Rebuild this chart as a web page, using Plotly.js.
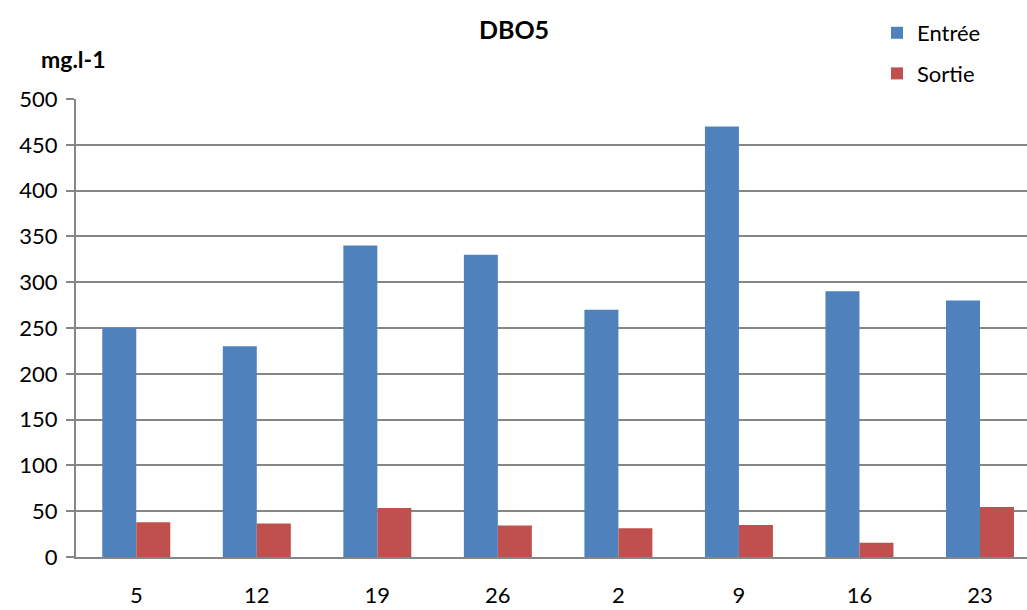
<!DOCTYPE html>
<html><head><meta charset="utf-8">
<script src="https://cdn.plot.ly/plotly-3.0.1.min.js"></script>
<style>html,body{margin:0;padding:0;background:#fff;}#chart{width:1027px;height:610px;}</style>
</head><body><div id="chart"></div>
<script>
const categories = ["5", "12", "19", "26", "2", "9", "16", "23"];
const entree = [250, 230, 340, 330, 270, 470, 290, 280];
const sortie = [38, 36.5, 53.5, 34.5, 31.5, 35, 15.5, 54.5];
const yTicks = [0, 50, 100, 150, 200, 250, 300, 350, 400, 450, 500];

const FONT = "Lato, 'Open Sans', sans-serif";
const idx = categories.map((c, i) => i);

const traces = [
  {type: "bar", name: "Entrée", x: idx, y: entree, marker: {color: "#4F81BD"}, legendgroup: "a"},
  {type: "bar", name: "Sortie", x: idx, y: sortie, marker: {color: "#C0504D"}, legendgroup: "b"}
];

const layout = {
  width: 1027, height: 610,
  margin: {l: 76, r: 0, t: 99, b: 53, autoexpand: false},
  paper_bgcolor: "#fff", plot_bgcolor: "#fff",
  font: {family: FONT, size: 22, color: "#000"},
  barmode: "group", bargap: 0.436, bargroupgap: 0,
  title: {text: "<b>DBO5</b>", font: {family: FONT, size: 25, color: "#000"},
          x: 514/1027, xref: "container", xanchor: "center", y: 1 - 30/610, yref: "container", yanchor: "middle"},
  xaxis: {
    range: [-0.5, 7.39], tickmode: "array", tickvals: idx, ticktext: categories,
    showgrid: false, showline: true, linecolor: "#868686", linewidth: 2,
    ticks: "", ticklabelstandoff: 18, tickfont: {family: FONT, size: 22, color: "#000"},
    zeroline: false, fixedrange: true
  },
  yaxis: {
    range: [0, 500], tickmode: "array", tickvals: yTicks, ticktext: yTicks.map(String),
    showgrid: true, gridcolor: "#868686", gridwidth: 2,
    showline: true, linecolor: "#868686", linewidth: 2,
    ticks: "outside", ticklen: 8, tickcolor: "#868686", tickwidth: 2,
    ticklabelstandoff: 4, tickfont: {family: FONT, size: 22, color: "#000"},
    zeroline: false, fixedrange: true
  },
  showlegend: true,
  legend: {
    x: 877/1027, xref: "container", xanchor: "left",
    y: 1 - 12/610, yref: "container", yanchor: "top",
    traceorder: "grouped", tracegroupgap: 9,
    font: {family: FONT, size: 22, color: "#000"},
    bgcolor: "rgba(0,0,0,0)", borderwidth: 0
  },
  annotations: [
    {text: "<b>mg.l-1</b>", xref: "paper", yref: "paper", x: -37/951, y: 1 + 40/458,
     xanchor: "left", yanchor: "middle", showarrow: false,
     font: {family: FONT, size: 23, color: "#000"}}
  ]
};

Plotly.newPlot("chart", traces, layout, {displayModeBar: false, staticPlot: true});
</script>
</body></html>
